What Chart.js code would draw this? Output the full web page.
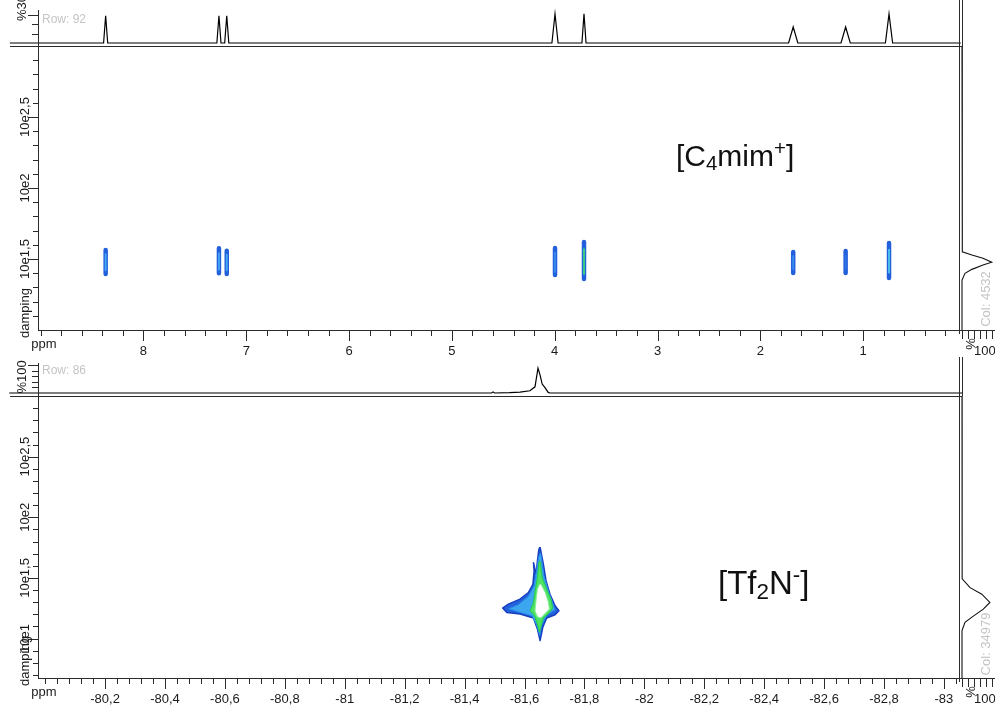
<!DOCTYPE html>
<html>
<head>
<meta charset="utf-8">
<title>DOSY [C4mim][Tf2N]</title>
<script src="https://cdn.jsdelivr.net/npm/chart.js@4.4.1/dist/chart.umd.min.js"></script>
<style>
    html, body { margin: 0; padding: 0; background: #fff; }
    #wrap { position: relative; width: 995px; height: 707px; overflow: hidden; }
    #wrap canvas { position: absolute; left: 0; top: 0; }
    .ion { position: absolute; font-family: 'Liberation Sans', Arial, sans-serif; color: #111; white-space: nowrap; }
    .ion sub { font-size: 0.68em; vertical-align: -0.22em; line-height: 0; }
    .ion sup { font-size: 0.68em; vertical-align: 0.55em; line-height: 0; }
</style>
</head>
<body>
<div id="wrap">
    <canvas id="c4Main" width="995" height="707"></canvas>
    <canvas id="c4Row" width="995" height="707"></canvas>
    <canvas id="c4Col" width="995" height="707"></canvas>
    <canvas id="tfMain" width="995" height="707"></canvas>
    <canvas id="tfRow" width="995" height="707"></canvas>
    <canvas id="tfCol" width="995" height="707"></canvas>
    <div class="ion" style="left:676px; top:141px; font-size:30px; line-height:30px">[C<sub>4</sub>mim<sup>+</sup>]</div>
    <div class="ion" style="left:718px; top:566px; font-size:33px; line-height:33px">[Tf<sub>2</sub>N<sup>-</sup>]</div>
</div>

<script>
/* ============================================
   DOSY MAPS - [C4mim+] (1H) and [Tf2N-] (19F)
   ============================================ */

// ---------- upper panel: [C4mim+] ----------
// 1D row trace (row 92), % of max
const c4PeakPpm = [8.368, 7.266, 7.190, 3.997, 3.715, 1.680, 1.170, 0.748];
const c4PeakHeight = [29, 29, 29, 31, 31, 17, 17, 31];
const c4PeakHalfWidth = [0.02, 0.02, 0.02, 0.03, 0.02, 0.045, 0.045, 0.035];
const c4TraceRange = [9.30, 0.05];

// 2D spots: ppm and damping exponent (10e...) extent
const c4SpotPpm = [8.368, 7.266, 7.190, 3.997, 3.715, 1.680, 1.170, 0.748];
const c4SpotTop = [1.563, 1.575, 1.558, 1.577, 1.620, 1.549, 1.556, 1.613];
const c4SpotBottom = [1.394, 1.399, 1.394, 1.387, 1.359, 1.401, 1.401, 1.366];
const c4CoreTop = [1.535, 1.540, 1.530, 1.545, 1.570, 1.520, 1.525, 1.565];
const c4CoreBottom = [1.420, 1.425, 1.420, 1.410, 1.395, 1.430, 1.430, 1.405];

// column projection (col 4532): intensity % vs damping exponent
const c4ProjIntensity = [0, 0, 2, 33, 70, 99, 70, 33, 10, 0, 0];
const c4ProjExp = [3.0, 1.600, 1.551, 1.528, 1.505, 1.477, 1.458, 1.427, 1.399, 1.352, 1.0];

// axes
const c4XTicks = [8, 7, 6, 5, 4, 3, 2, 1];
const c4XTickLabels = ['8', '7', '6', '5', '4', '3', '2', '1'];
const c4YTicks = [1.5, 2, 2.5];
const c4YTickLabels = ['10e1,5', '10e2', '10e2,5'];
const c4RowTicks = [30, 20, 10];

// ---------- lower panel: [Tf2N-] ----------
const tfTracePpm = [-79.88, -81.490, -81.495, -81.500, -81.550, -81.585, -81.618, -81.635, -81.645, -81.652, -81.659, -81.669, -81.679, -81.685, -83.10];
const tfTraceHeight = [0, 0, 4, 0, 1, 3, 8, 22, 89, 64, 32, 18, 2, 0, 0];

// contour levels of the single cross peak (ppm, damping exponent)
const tfOuterPpm = [-81.652, -81.663, -81.672, -81.685, -81.702, -81.715, -81.702, -81.674, -81.661, -81.652, -81.643, -81.630, -81.585, -81.541, -81.527, -81.546, -81.585, -81.613, -81.628, -81.632, -81.630, -81.639, -81.643, -81.648];
const tfOuterExp = [1.754, 1.612, 1.475, 1.366, 1.270, 1.230, 1.197, 1.170, 1.093, 0.984, 1.080, 1.170, 1.202, 1.216, 1.252, 1.284, 1.325, 1.380, 1.448, 1.557, 1.625, 1.530, 1.639, 1.735];
const tfMidPpm = [-81.654, -81.665, -81.682, -81.695, -81.702, -81.675, -81.657, -81.651, -81.640, -81.625, -81.579, -81.548, -81.579, -81.612, -81.632, -81.640, -81.647];
const tfMidExp = [1.705, 1.516, 1.377, 1.287, 1.238, 1.197, 1.107, 1.025, 1.115, 1.189, 1.221, 1.246, 1.279, 1.344, 1.434, 1.557, 1.672];
const tfGreenPpm = [-81.652, -81.659, -81.674, -81.688, -81.694, -81.680, -81.663, -81.654, -81.650, -81.643, -81.633, -81.619, -81.630, -81.635, -81.643, -81.648];
const tfGreenExp = [1.639, 1.502, 1.407, 1.325, 1.252, 1.207, 1.170, 1.093, 1.052, 1.120, 1.189, 1.230, 1.298, 1.393, 1.502, 1.625];
const tfCorePpm = [-81.655, -81.669, -81.680, -81.683, -81.669, -81.654, -81.643, -81.635, -81.639, -81.643, -81.650];
const tfCoreExp = [1.448, 1.380, 1.298, 1.243, 1.207, 1.170, 1.180, 1.230, 1.325, 1.407, 1.448];

// column projection (col 34979)
const tfProjIntensity = [0, 0, 1, 27, 66, 93, 71, 32, 10, 0, 0];
const tfProjExp = [3.0, 1.557, 1.492, 1.420, 1.366, 1.298, 1.243, 1.175, 1.134, 1.066, 0.675];

// axes
const tfXTicks = [-80.2, -80.4, -80.6, -80.8, -81, -81.2, -81.4, -81.6, -81.8, -82, -82.2, -82.4, -82.6, -82.8, -83];
const tfXTickLabels = ['-80,2', '-80,4', '-80,6', '-80,8', '-81', '-81,2', '-81,4', '-81,6', '-81,8', '-82', '-82,2', '-82,4', '-82,6', '-82,8', '-83'];
const tfYTicks = [1, 1.5, 2, 2.5];
const tfYTickLabels = ['10e1', '10e1,5', '10e2', '10e2,5'];
const tfRowTicks = [100, 80, 60, 40, 20];

const projTicks = [0, 20, 40, 60, 80, 100];

// ---------- layout / style ----------
const W = 995, H = 707;
const AXIS = '#2b2b2b';
const TEXT = '#1a1a1a';
const GREY = '#c4c4c4';
const FONT = '"Liberation Sans", Arial, sans-serif';

const SPOT_BLUE = '#2360dc';
const c4CoreColor = ['#45a8f4', '#45a8f4', '#45a8f4', '#3a8cee', '#3cd878', '#3a8cee', '#2f72e2', '#4cc8ec'];

// small drawing helpers
function hLine(ctx, x1, x2, y) {
    const yy = Math.round(y) + 0.5;
    ctx.beginPath(); ctx.moveTo(x1, yy); ctx.lineTo(x2, yy); ctx.stroke();
}
function vLine(ctx, x, y1, y2) {
    const xx = Math.round(x) + 0.5;
    ctx.beginPath(); ctx.moveTo(xx, y1); ctx.lineTo(xx, y2); ctx.stroke();
}
function vText(ctx, txt, x, y) {
    ctx.save();
    ctx.translate(x, y);
    ctx.rotate(-Math.PI / 2);
    ctx.textAlign = 'center';
    ctx.textBaseline = 'middle';
    ctx.fillText(txt, 0, 0);
    ctx.restore();
}
function steps(from, to, step) {
    const out = [];
    const n = Math.round((to - from) / step);
    for (let i = 0; i <= n; i++) out.push(+(from + i * step).toFixed(4));
    return out;
}

// Axis drawing plugin (positions all come from the chart scales)
function axesPlugin(cfg) {
    return {
        id: 'nmrAxes',
        afterDatasetsDraw(chart) {
            const ctx = chart.ctx;
            ctx.save();
            ctx.lineWidth = 1;
            ctx.strokeStyle = AXIS;
            ctx.fillStyle = TEXT;
            ctx.font = '13px ' + FONT;
            if (cfg.kind === 'main') drawMainAxes(chart, cfg);
            if (cfg.kind === 'row') drawRowAxes(chart, cfg);
            if (cfg.kind === 'col') drawColAxes(chart, cfg);
            ctx.restore();
        }
    };
}

function drawMainAxes(chart, cfg) {
    const { ctx, chartArea: a } = chart;
    const xs = chart.scales.x, ys = chart.scales.y;
    hLine(ctx, a.left - 28, a.right + 4, a.top);
    vLine(ctx, a.left, a.top, a.bottom + 1);
    hLine(ctx, a.left, a.right + 4, a.bottom);

    ctx.textAlign = 'center';
    ctx.textBaseline = 'middle';
    steps(cfg.xMinor[0], cfg.xMinor[1], cfg.xMinor[2]).forEach(v => {
        vLine(ctx, xs.getPixelForValue(v), a.bottom, a.bottom + 6);
    });
    cfg.xTicks.forEach((v, i) => {
        const p = xs.getPixelForValue(v);
        vLine(ctx, p, a.bottom, a.bottom + 11);
        ctx.fillText(cfg.xLabels[i], p, a.bottom + 21);
    });
    steps(cfg.yMinor[0], cfg.yMinor[1], cfg.yMinor[2]).forEach(e => {
        hLine(ctx, a.left - 5, a.left, ys.getPixelForValue(Math.pow(10, e)));
    });
    cfg.yTicks.forEach((e, i) => {
        const p = ys.getPixelForValue(Math.pow(10, e));
        hLine(ctx, a.left - 10, a.left, p);
        vText(ctx, cfg.yLabels[i], a.left - 13, p);
    });
    ctx.fillText('ppm', a.left + 6, a.bottom + 14);
    vText(ctx, 'damping', a.left - 13, a.bottom - 17);
}

function drawRowAxes(chart, cfg) {
    const { ctx, chartArea: a } = chart;
    const ys = chart.scales.y;
    vLine(ctx, a.left, a.top - 2, a.bottom + 4);
    cfg.ticks.forEach((v, i) => {
        hLine(ctx, a.left - (i === 0 ? 10 : 6), a.left, ys.getPixelForValue(v));
    });
    vText(ctx, cfg.unit, a.left - 16, cfg.unitY);
    ctx.fillStyle = GREY;
    ctx.font = '12px ' + FONT;
    ctx.textAlign = 'left';
    ctx.textBaseline = 'middle';
    ctx.fillText(cfg.row, a.left + 4, cfg.rowY);
}

function drawColAxes(chart, cfg) {
    const { ctx, chartArea: a } = chart;
    const xs = chart.scales.x;
    vLine(ctx, a.left - 3, cfg.lineTop, a.bottom + 4);
    vLine(ctx, a.left, cfg.lineTop, a.top);
    hLine(ctx, a.left - 3, a.right + 3, a.bottom);
    projTicks.forEach(v => vLine(ctx, xs.getPixelForValue(v), a.bottom, a.bottom + 9));
    vText(ctx, '%', a.left + 9, a.bottom + 14);
    ctx.textAlign = 'left';
    ctx.textBaseline = 'middle';
    ctx.fillText('100', a.left + 12, a.bottom + 21);
    ctx.fillStyle = GREY;
    vText(ctx, cfg.col, a.left + 24, cfg.colY);
}

// builds a Chart.js line chart on a full-size transparent canvas
function makeChart(id, area, scales, datasets, cfg) {
    return new Chart(document.getElementById(id), {
        type: 'line',
        data: { datasets },
        options: {
            responsive: false,
            animation: false,
            events: [],
            layout: { padding: { left: area.left, top: area.top, right: W - area.right, bottom: H - area.bottom } },
            elements: { point: { radius: 0 }, line: { tension: 0 } },
            scales,
            plugins: { legend: { display: false }, tooltip: { enabled: false } }
        },
        plugins: [axesPlugin(cfg)]
    });
}

function lineSet(points, color, width, extra) {
    return Object.assign({ data: points, borderColor: color, borderWidth: width, fill: false }, extra || {});
}

function polygon(ppm, exp) {
    const pts = ppm.map((p, i) => ({ x: p, y: Math.pow(10, exp[i]) }));
    pts.push(pts[0]);
    return pts;
}

function traceFromPeaks() {
    const pts = [{ x: c4TraceRange[0], y: 0 }];
    c4PeakPpm.forEach((p, i) => {
        pts.push({ x: p + c4PeakHalfWidth[i], y: 0 }, { x: p, y: c4PeakHeight[i] }, { x: p - c4PeakHalfWidth[i], y: 0 });
    });
    pts.push({ x: c4TraceRange[1], y: 0 });
    return pts;
}

// ---------- upper panel ----------
function createC4Panel() {
    const main = { left: 38, right: 958, top: 46, bottom: 330 };
    const xScale = { type: 'linear', display: false, reverse: true, min: 0.077, max: 9.026, bounds: 'data' };
    const yScale = { type: 'logarithmic', display: false, min: Math.pow(10, 1.0), max: Math.pow(10, 3.0), bounds: 'data' };

    // lower "order" is drawn on top
    const spots = [];
    c4SpotPpm.forEach((p, i) => {
        spots.push(lineSet([{ x: p, y: Math.pow(10, c4SpotTop[i]) }, { x: p, y: Math.pow(10, c4SpotBottom[i]) }],
            SPOT_BLUE, 4.5, { borderCapStyle: 'round', order: 2 }));
        spots.push(lineSet([{ x: p, y: Math.pow(10, c4CoreTop[i]) }, { x: p, y: Math.pow(10, c4CoreBottom[i]) }],
            c4CoreColor[i], 1.8, { borderCapStyle: 'round', order: 1 }));
    });
    makeChart('c4Main', main, { x: xScale, y: yScale }, spots, {
        kind: 'main', xTicks: c4XTicks, xLabels: c4XTickLabels, xMinor: [0.2, 9.0, 0.2],
        yTicks: c4YTicks, yLabels: c4YTickLabels, yMinor: [1.1, 2.9, 0.1]
    });

    makeChart('c4Row', { left: 38, right: 958, top: 12, bottom: 43 },
        { x: xScale, y: { type: 'linear', display: false, min: 0, max: 33, bounds: 'data' } },
        [lineSet(traceFromPeaks(), '#000', 1.2, { clip: { left: 30, right: 4, top: 10, bottom: 2 } })],
        { kind: 'row', ticks: c4RowTicks, unit: '%30', unitY: 8, row: 'Row: 92', rowY: 20 });

    makeChart('c4Col', { left: 962, right: 992, top: 46, bottom: 330 },
        { x: { type: 'linear', display: false, min: 0, max: 100, bounds: 'data' }, y: yScale },
        [lineSet(c4ProjIntensity.map((v, i) => ({ x: v, y: Math.pow(10, c4ProjExp[i]) })), '#111', 1.1,
            { clip: { left: 2, right: 4, top: 0, bottom: 0 } })],
        { kind: 'col', lineTop: 0, col: 'Col: 4532', colY: 299 });
}

// ---------- lower panel ----------
function createTfPanel() {
    const main = { left: 38, right: 958, top: 396, bottom: 678 };
    const xScale = { type: 'linear', display: false, reverse: true, min: -83.047, max: -79.976, bounds: 'data' };
    const yScale = { type: 'logarithmic', display: false, min: Math.pow(10, 0.675), max: Math.pow(10, 3.0), bounds: 'data' };

    // outermost level drawn first (highest order), white core last
    const contours = [
        lineSet(polygon(tfOuterPpm, tfOuterExp), '#163fc0', 1.5, { fill: 'shape', backgroundColor: '#2462dc', borderJoinStyle: 'round', order: 4 }),
        lineSet(polygon(tfMidPpm, tfMidExp), '#2a8ee8', 1, { fill: 'shape', backgroundColor: '#3ca6ee', borderJoinStyle: 'round', order: 3 }),
        lineSet(polygon(tfGreenPpm, tfGreenExp), '#25cc46', 1, { fill: 'shape', backgroundColor: '#4ee266', borderJoinStyle: 'round', order: 2 }),
        lineSet(polygon(tfCorePpm, tfCoreExp), '#8af09a', 1, { fill: 'shape', backgroundColor: '#ffffff', borderJoinStyle: 'round', order: 1 })
    ];
    makeChart('tfMain', main, { x: xScale, y: yScale }, contours, {
        kind: 'main', xTicks: tfXTicks, xLabels: tfXTickLabels, xMinor: [-83.04, -80.0, 0.04],
        yTicks: tfYTicks, yLabels: tfYTickLabels, yMinor: [0.7, 2.9, 0.1]
    });

    makeChart('tfRow', { left: 38, right: 958, top: 365, bottom: 393 },
        { x: xScale, y: { type: 'linear', display: false, min: 0, max: 100, bounds: 'data' } },
        [lineSet(tfTracePpm.map((p, i) => ({ x: p, y: tfTraceHeight[i] })), '#000', 1.2,
            { clip: { left: 30, right: 4, top: 6, bottom: 2 } })],
        { kind: 'row', ticks: tfRowTicks, unit: '%100', unitY: 377, row: 'Row: 86', rowY: 371 });

    makeChart('tfCol', { left: 962, right: 992, top: 396, bottom: 678 },
        { x: { type: 'linear', display: false, min: 0, max: 100, bounds: 'data' }, y: yScale },
        [lineSet(tfProjIntensity.map((v, i) => ({ x: v, y: Math.pow(10, tfProjExp[i]) })), '#111', 1.1,
            { clip: { left: 2, right: 4, top: 0, bottom: 0 } })],
        { kind: 'col', lineTop: 357, col: 'Col: 34979', colY: 644 });
}

document.addEventListener('DOMContentLoaded', function() {
    createC4Panel();
    createTfPanel();
});
</script>
</body>
</html>
